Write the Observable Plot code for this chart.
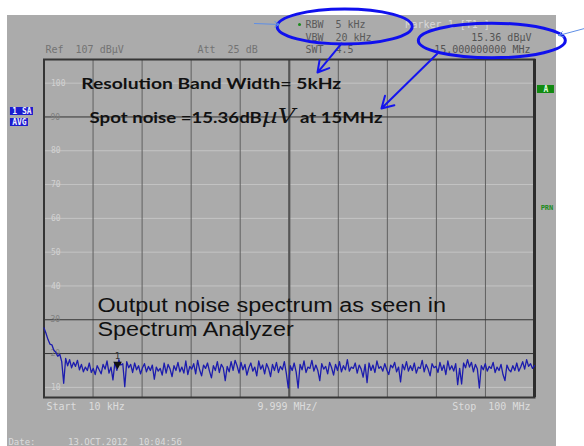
<!DOCTYPE html>
<html><head><meta charset="utf-8">
<script src="https://cdn.jsdelivr.net/npm/d3@7"></script>
<script src="https://cdn.jsdelivr.net/npm/@observablehq/plot@0.6"></script>
<style>
html,body{margin:0;padding:0;background:#fff;overflow:hidden;}
#wrap{position:relative;width:584px;height:446px;overflow:hidden;}
#bg{position:absolute;left:7px;top:15px;width:549px;height:431px;background:#ababab;}
#wrap svg{position:absolute;left:0;top:0;}
svg text{white-space:pre;}
</style></head><body><div id="wrap"><div id="bg"></div></div>
<script>
// ---- Data: averaged noise trace (dBµV), sweep 10 kHz .. 100 MHz ----
const startMHz = 0.01, stopMHz = 100;
const noiseLevel = [
27.6, 26.0, 24.2, 22.8, 22.6, 21.0, 20.4, 19.2, 19.8, 17.6,
11.2, 18.6, 16.4, 18.2, 15.8, 17.4, 16.2, 18.0, 15.2, 16.8,
14.6, 16.0, 15.0, 17.2, 14.4, 15.6, 13.8, 16.4, 15.2, 14.0,
16.8, 15.4, 17.8, 14.2, 16.0, 12.2, 17.4, 15.0, 18.2, 16.6,
17.0, 10.2, 17.6, 15.8, 16.8, 14.4, 17.2, 15.2, 16.4, 14.0,
15.8, 17.0, 14.6, 16.2, 15.0, 16.6, 12.4, 16.0, 14.8, 15.6,
13.6, 17.2, 14.2, 16.8, 15.4, 13.2, 16.4, 15.0, 17.4, 14.6,
16.0, 14.2, 17.8, 13.8, 16.2, 15.4, 17.0, 14.0, 18.0, 15.2,
13.4, 16.6, 15.6, 17.2, 14.8, 12.8, 16.4, 15.0, 17.6, 14.4,
16.8, 15.8, 12.0, 16.2, 14.6, 17.6, 15.0, 18.0, 16.4, 14.2,
17.4, 15.2, 16.8, 13.6, 15.8, 17.2, 14.8, 16.0, 13.4, 17.8,
15.4, 16.6, 14.0, 17.0, 15.6, 13.2, 16.8, 15.0, 17.4, 14.4,
16.2, 15.2, 17.6, 14.2, 9.8, 16.4, 15.0, 17.2, 14.6, 9.8,
16.8, 15.2, 17.8, 14.4, 16.0, 15.6, 18.0, 14.8, 16.6, 15.0,
12.0, 17.0, 15.4, 16.2, 14.0, 17.4, 15.8, 13.6, 16.8, 15.0,
17.6, 14.6, 16.4, 15.2, 18.2, 14.8, 16.0, 15.6, 17.2, 14.2,
16.6, 15.4, 13.0, 16.8, 11.4, 17.2, 15.0, 16.6, 14.4, 17.8,
15.6, 16.2, 14.8, 17.0, 15.2, 13.8, 16.6, 15.8, 17.4, 14.6,
16.0, 11.6, 16.8, 15.2, 17.6, 14.8, 16.4, 15.0, 17.2, 14.2,
16.0, 15.6, 18.0, 14.6, 16.8, 15.4, 13.4, 17.0, 15.8, 16.2,
14.4, 17.4, 15.0, 16.6, 13.8, 17.8, 15.2, 16.4, 14.8, 17.0,
10.8, 15.6, 11.0, 17.2, 15.8, 18.2, 16.0, 17.4, 14.6, 16.8,
15.4, 9.8, 16.4, 15.2, 17.0, 14.8, 16.2, 15.6, 17.4, 14.4,
16.0, 15.0, 16.8, 13.8, 12.0, 16.6, 15.2, 14.6, 16.4, 15.0,
17.2, 14.8, 16.0, 17.6, 15.4, 18.2, 16.2, 17.0, 15.6, 16.4
];
// sweep points are evenly spaced across the span
const trace = noiseLevel.map((v, i) => ({f: startMHz + i * (stopMHz - startMHz) / (noiseLevel.length - 1), v}));

// marker 1
const marker = [{f: 15, v: 15.36}];

// grid
const yDomain = [7, 107];
const xGridMHz = [10.009, 20.008, 30.007, 40.006, 60.004, 70.003, 80.002, 90.001];
const xCenterMHz = [50.005];
const yGridLight = [100, 80, 70, 60, 50, 40, 10];
const yGridDark = [90, 30, 20];

// ---- annotations (data coordinates: MHz, dBµV) ----
const hdrLeft = [
  {f: 0.31, v: 109.96, label: "Ref  107 dBµV"},
  {f: 31.3, v: 109.96, label: "Att  25 dB"}
];
const hdrSettings = [
  {f: 53.3, v: 117.36, label: "RBW  5 kHz"},
  {f: 53.3, v: 113.51, label: "VBW  20 kHz"},
  {f: 53.3, v: 109.96, label: "SWT  4.5"}
];
const hdrDot = [{f: 52.1, v: 117.36}];
const mkTitle = [{f: 73.7, v: 117.36, label: "Marker 1 [T1 ]"}];
const mkReadout = [
  {f: 99.38, v: 113.51, label: "15.36 dBµV"},
  {f: 99.18, v: 109.96, label: "15.000000000 MHz"}
];
const footStart = [
  {f: 0.51, v: 4.34, label: "Start  10 kHz"},
  {f: 43.52, v: 4.34, label: "9.999 MHz/"}
];
const footEnd = [{f: 99.18, v: 4.34, label: "Stop  100 MHz"}];
const dateLine = [{f: -7.24, v: -6.1, label: "Date:      13.OCT.2012  10:04:56"}];

const boldNotes = [
  {f: 7.6, v: 99.9, label: "Resolution Band Width= 5kHz"},
  {f: 9.3, v: 89.87, label: "Spot noise =15.36dBµV at 15MHz"}
];
const bigNotes = [
  {f: 10.9, v: 34.0, label: "Output noise spectrum as seen in"},
  {f: 10.9, v: 26.9, label: "Spectrum Analyzer"}
];
const ellipseRBW = [{f: 61.3, v: 116.76}];
const ellipseMarker = [{f: 91.3, v: 112.62}];
const thinArrows = [
  {x1: 42.9, y1: 117.65, x2: 48.0, y2: 117.36},
  {x1: 110.2, y1: 116.17, x2: 104.9, y2: 114.1}
];
const thickArrows = [
  {x1: 60.65, y1: 111.73, x2: 55.76, y2: 103.15},
  {x1: 80.22, y1: 108.78, x2: 68.8, y2: 92.5}
];
const blueBoxes = [
  {x1: -6.83, x2: -2.14, y1: 92.8, y2: 90.43},
  {x1: -6.83, x2: -3.16, y1: 89.54, y2: 87.18}
];
const blueBoxLabels = [
  {f: -4.48, v: 91.62, label: "1 SA"},
  {f: -5.0, v: 88.36, label: "AVG"}
];
const greenBox = [{x1: 100.6, x2: 104.07, y1: 99.31, y2: 96.94}];
const greenBoxLabel = [{f: 102.34, v: 98.12, label: "A"}];
const prnLabel = [{f: 102.54, v: 63.2, label: "PRN"}];

// ---- styles ----
const MONO = "DejaVu Sans Mono";
function ellipse(rx, ry) {
  const k = 0.5523;
  return {draw(c) {
    c.moveTo(rx, 0);
    c.bezierCurveTo(rx, ry * k, rx * k, ry, 0, ry);
    c.bezierCurveTo(-rx * k, ry, -rx, ry * k, -rx, 0);
    c.bezierCurveTo(-rx, -ry * k, -rx * k, -ry, 0, -ry);
    c.bezierCurveTo(rx * k, -ry, rx, -ry * k, rx, 0);
    c.closePath();
  }};
}
const txt = (data, o) => Plot.text(data, {x: "f", y: "v", text: "label", fontFamily: MONO, fontSize: 10, ...o});

const chart = Plot.plot({
  width: 584, height: 446,
  marginLeft: 43.5, marginRight: 50, marginTop: 59, marginBottom: 49,
  x: {domain: [startMHz, stopMHz], axis: null},
  y: {domain: yDomain, axis: null},
  style: {background: "transparent", overflow: "visible"},
  marks: [
    Plot.ruleY(yGridLight, {stroke: "#c4c4c4", strokeWidth: 1}),
    Plot.ruleX(xGridMHz, {stroke: "#606060", strokeWidth: 1}),
    Plot.ruleX(xCenterMHz, {stroke: "#555555", strokeWidth: 2.2}),
    Plot.ruleY(yGridDark, {stroke: "#333333", strokeWidth: 1}),
    Plot.frame({stroke: "#353535", strokeWidth: 2}),
    Plot.ruleX([stopMHz], {stroke: "#2c2c2c", strokeWidth: 3}),
    Plot.text(yGridLight, {y: d => d, text: d => `${d}`, frameAnchor: "left", textAnchor: "start", dx: 7, fontFamily: MONO, fontSize: 8, fill: "#d2d2d2"}),
    Plot.text(yGridDark, {y: d => d, text: d => `${d}`, frameAnchor: "left", textAnchor: "start", dx: 6.5, fontFamily: MONO, fontSize: 8, fill: "#808080"}),
    Plot.line(trace, {x: "f", y: "v", stroke: "#1c1cae", strokeWidth: 1.3, strokeLinejoin: "round"}),
    Plot.dot(marker, {x: "f", y: "v", symbol: "triangle", rotate: 180, r: 3.2, fill: "#111", stroke: "none", dy: -5}),
    Plot.text(marker, {x: "f", y: "v", text: () => "1", dy: -13, fontFamily: MONO, fontSize: 9, fill: "#333"}),
    // header / footer readouts
    txt(hdrLeft, {textAnchor: "start", fill: "#737373"}),
    txt(hdrSettings, {textAnchor: "start", fill: "#5a5a5a"}),
    Plot.dot(hdrDot, {x: "f", y: "v", r: 1.5, fill: "#1a8a1a"}),
    txt(mkTitle, {textAnchor: "start", fill: "#d8d8d8"}),
    txt(mkReadout, {textAnchor: "end", fill: "#545454"}),
    txt(footStart, {textAnchor: "start", fill: "#dcdcdc"}),
    txt(footEnd, {textAnchor: "end", fill: "#dcdcdc"}),
    txt(dateLine, {textAnchor: "start", fill: "#dcdcdc", fontSize: 9}),
    // side boxes
    Plot.rect(blueBoxes, {x1: "x1", x2: "x2", y1: "y1", y2: "y2", fill: "#1b1bcf"}),
    txt(blueBoxLabels, {fontSize: 8, fontWeight: "bold", fill: "#eef"}),
    Plot.rect(greenBox, {x1: "x1", x2: "x2", y1: "y1", y2: "y2", fill: "#118a11"}),
    txt(greenBoxLabel, {fontSize: 8, fontWeight: "bold", fill: "#dfd"}),
    txt(prnLabel, {fontSize: 7, fontWeight: "bold", fill: "#1a8a1a"}),
    // annotations
    Plot.text(boldNotes, {x: "f", y: "v", text: "label", textAnchor: "start", fontFamily: "Lato", fontWeight: 700, fontSize: 16, fill: "#111", className: "ann-bold"}),
    Plot.text(bigNotes, {x: "f", y: "v", text: "label", textAnchor: "start", fontFamily: "Liberation Sans", fontSize: 19.5, fill: "#111", className: "ann-big"}),
    Plot.dot(ellipseRBW, {x: "f", y: "v", symbol: ellipse(67.5, 17.5), fill: "none", stroke: "#1010ee", strokeWidth: 3}),
    Plot.dot(ellipseMarker, {x: "f", y: "v", symbol: ellipse(73.5, 17.3), fill: "none", stroke: "#1010ee", strokeWidth: 3}),
    Plot.arrow(thinArrows, {x1: "x1", y1: "y1", x2: "x2", y2: "y2", stroke: "#5f8fe6", strokeWidth: 1, headLength: 8}),
    Plot.arrow(thickArrows, {x1: "x1", y1: "y1", x2: "x2", y2: "y2", stroke: "#1515ee", strokeWidth: 2, headLength: 10})
  ]
});
document.getElementById("wrap").append(chart);

// typographic finishing: stretched lettering as in the screenshot
const boldWidths = {"Resolution": 260, "Spot": 293};
chart.querySelectorAll("g.ann-bold text").forEach(t => {
  const s = t.textContent;
  if (s.startsWith("Spot")) {
    t.textContent = "";
    const ns = "http://www.w3.org/2000/svg";
    const parts = [["Spot noise =15.36dB", {}], ["µV", {"font-style": "italic", "font-size": "21px", "font-weight": "400", "font-family": "DejaVu Serif"}], [" at 15MHz", {}]];
    for (const [str, attrs] of parts) {
      const sp = document.createElementNS(ns, "tspan");
      sp.textContent = str;
      for (const k in attrs) sp.setAttribute(k, attrs[k]);
      t.appendChild(sp);
    }
  }
  const key = s.split(" ")[0];
  t.setAttribute("textLength", boldWidths[key]);
  t.setAttribute("lengthAdjust", "spacingAndGlyphs");
});
chart.querySelectorAll("g.ann-big text").forEach(t => {
  t.setAttribute("textLength", t.getComputedTextLength() * 1.2);
  t.setAttribute("lengthAdjust", "spacingAndGlyphs");
});
</script></body></html>
